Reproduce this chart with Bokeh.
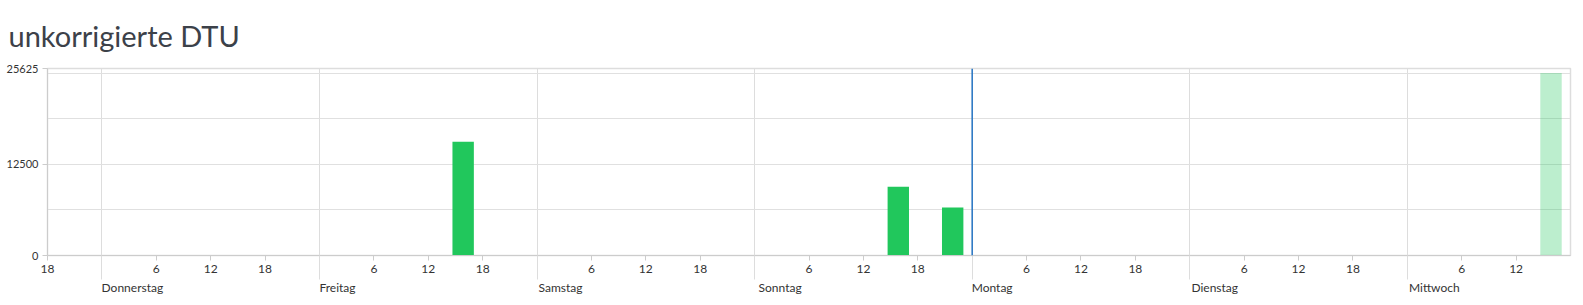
from bokeh.plotting import figure
from bokeh.models import (Range1d, FixedTicker, Span, Title, LinearAxis, ColumnDataSource)
from bokeh.embed import file_html
from bokeh.resources import INLINE

# hours counted from Wednesday 18:00
bar_hours = [45.85, 93.85, 99.85, 165.85]
bar_values = [15600, 9430, 6590, 25000]
bar_alpha = [1.0, 1.0, 1.0, 0.3]
bar_width_h = 2.36

day_names = ["Donnerstag", "Freitag", "Samstag", "Sonntag", "Montag", "Dienstag", "Mittwoch"]
day_starts = [6 + 24 * i for i in range(7)]

hour_ticks = [0]
hour_labels = {0: "18"}
for d in day_starts:
    for hh in (6, 12, 18):
        t = d + hh
        if t < 168:
            hour_ticks.append(t)
            hour_labels[t] = str(hh)

y_ticks = [0, 12500, 25625]
y_grid = [0, 6250, 12500, 18750, 25000]
now_hour = 102

FONT = "Lato"

# layout helper: approximate rendered widths (px) of the day names, used to
# shift the centred axis labels so they start at the day boundary
_label_px = {"Donnerstag": 61, "Freitag": 36, "Samstag": 47, "Sonntag": 51,
             "Montag": 40, "Dienstag": 50, "Mittwoch": 54}
PLOT_W, BORDER_L, BORDER_R = 1583, 47, 13
px_per_hour = (PLOT_W - BORDER_L - BORDER_R) / 168.0
day_label_pos = [d + _label_px[n] / 2.0 / px_per_hour for d, n in zip(day_starts, day_names)]

p = figure(width=PLOT_W, height=305, output_backend="svg", toolbar_location=None,
           x_range=Range1d(0, 168), y_range=Range1d(0, 25625),
           min_border_left=BORDER_L, min_border_right=BORDER_R, min_border_top=68,
           min_border_bottom=50,
           background_fill_color="white", border_fill_color="white")
p.title = Title(text="unkorrigierte DTU", align="left", offset=-39, standoff=31,
                text_font=FONT, text_font_size="29px", text_font_style="normal",
                text_color="#3c4149")
p.outline_line_color = "#dddddd"
p.outline_line_width = 1.5

src = ColumnDataSource(dict(x=bar_hours, top=bar_values, a=bar_alpha))
p.vbar(x="x", top="top", width=bar_width_h, bottom=0, source=src,
       fill_color="#21c75c", fill_alpha="a", line_color=None)

p.add_layout(Span(location=now_hour, dimension="height", line_color="#2473c3", line_width=1.5))

# x axis (hours)
xa = p.xaxis[0]
xa.ticker = FixedTicker(ticks=hour_ticks, minor_ticks=day_starts)
xa.major_label_overrides = {k: v for k, v in hour_labels.items()}
xa.major_tick_out = 5
xa.major_tick_in = 0
xa.minor_tick_out = 24
xa.minor_tick_in = 0
xa.major_tick_line_color = "#cccccc"
xa.minor_tick_line_color = "#dddddd"
xa.axis_line_color = "#cccccc"
xa.major_label_text_font = FONT
xa.major_label_text_font_size = "12px"
xa.major_label_text_color = "#333333"
xa.major_label_standoff = -15

# second x axis (day names)
da = LinearAxis(ticker=FixedTicker(ticks=day_label_pos, minor_ticks=[]),
                major_label_overrides={pos: n for pos, n in zip(day_label_pos, day_names)},
                axis_line_color=None, major_tick_line_color=None, minor_tick_line_color=None,
                major_tick_out=0, major_tick_in=0, minor_tick_out=0, minor_tick_in=0,
                major_label_text_font=FONT, major_label_text_font_size="12px",
                major_label_text_color="#333333", major_label_standoff=4)
p.add_layout(da, "below")

ya = p.yaxis[0]
ya.ticker = FixedTicker(ticks=y_ticks)
ya.major_tick_out = 5
ya.major_tick_in = 0
ya.minor_tick_out = 0
ya.minor_tick_in = 0
ya.major_tick_line_color = "#cccccc"
ya.axis_line_color = "#cccccc"
ya.major_label_text_font = FONT
ya.major_label_text_font_size = "11px"
ya.major_label_text_color = "#333333"
ya.major_label_standoff = 4

p.xgrid.ticker = FixedTicker(ticks=day_starts)
p.xgrid.grid_line_color = "#dddddd"
p.ygrid.ticker = FixedTicker(ticks=y_grid)
p.ygrid.grid_line_color = "#e0e0e0"

open("out.html", "w").write(file_html(p, INLINE))
